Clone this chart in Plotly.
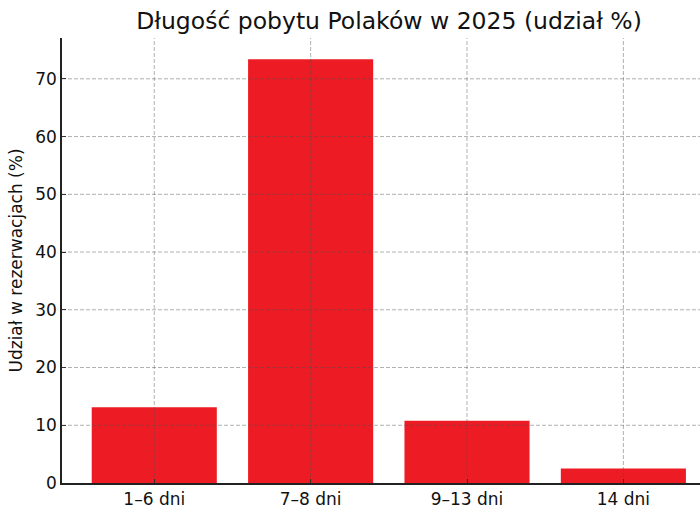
import plotly.graph_objects as go

categories = ["1–6 dni", "7–8 dni", "9–13 dni", "14 dni"]
values = [13.1, 73.4, 10.8, 2.5]
y_ticks = [0, 10, 20, 30, 40, 50, 60, 70]

GRID = "rgba(80,80,80,0.45)"

fig = go.Figure()
fig.add_trace(go.Bar(
    x=categories, y=values, width=0.8,
    marker=dict(color="#ED1C24", line=dict(width=0)),
))

shapes = []
for c in categories:
    shapes.append(dict(type="line", xref="x", yref="paper", x0=c, x1=c, y0=0, y1=1,
                       line=dict(color=GRID, width=1, dash="4px,2px"), layer="above"))
for t in y_ticks[1:]:
    shapes.append(dict(type="line", xref="paper", yref="y", x0=0, x1=1, y0=t, y1=t,
                       line=dict(color=GRID, width=1, dash="4px,2px"), layer="above"))

fig.update_layout(
    width=700, height=516,
    margin=dict(l=62, r=0, t=38, b=33),
    paper_bgcolor="white", plot_bgcolor="white",
    font=dict(family="DejaVu Sans", size=17, color="#111111"),
    title=dict(text="Długość pobytu Polaków w 2025 (udział %)", x=389/700, xanchor="center",
               y=1 - 21/516, yanchor="middle", font=dict(size=23.5, color="#111111")),
    showlegend=False,
    shapes=shapes,
)
fig.update_xaxes(
    range=[-0.59, 3.49], showline=True, linecolor="#222222", linewidth=1.5,
    ticks="inside", ticklen=4, tickcolor="#222222", tickwidth=1.2,
    showgrid=False, layer="above traces",
)
fig.update_yaxes(
    range=[0, 77.07], tickvals=y_ticks, showline=True, linecolor="#222222", linewidth=1.5,
    ticks="inside", ticklen=4, tickcolor="#222222", tickwidth=1.2,
    showgrid=False, zeroline=False, layer="above traces",
    title=dict(text="Udział w rezerwacjach (%)", standoff=8, font=dict(size=17)),
)

fig.write_html("out.html", config={"displayModeBar": False},
               post_script="document.body.style.margin='0';")
